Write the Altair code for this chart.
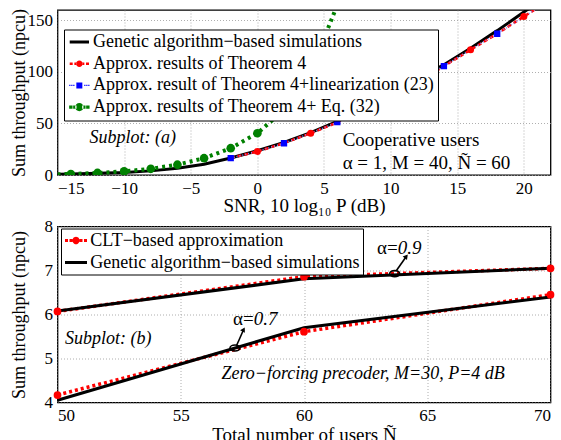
import altair as alt
import pandas as pd

FONT = "Liberation Serif"

# ---------------- Subplot (a): sum throughput vs SNR ----------------
snr_ga = [-15, -14, -12, -10, -8, -6, -4, -2, 0, 2, 4, 6, 8, 10, 12, 14, 16, 18, 20, 22]
thr_ga = [0.8, 1.0, 1.6, 2.5, 4.0, 6.5, 10.5, 16.5, 23.5, 31.5, 41.0, 52.0,
          64.0, 78.0, 92.0, 107.0, 123.0, 140.0, 158.0, 176.0]

snr_thm = [-2, 0, 2, 4, 6, 8, 10, 12, 14, 16, 18, 20, 22]
thr_thm4 = [16.5, 22.8, 31.0, 40.5, 51.0, 63.0, 76.0, 90.0, 105.5, 121.4, 137.0, 153.7, 170.0]
thr_lin = [16.3, 23.0, 30.8, 40.7, 51.2, 63.2, 76.2, 90.3, 105.6, 121.6, 137.0, 153.3, 170.5]
snr_thm4_marks = [0, 4, 8, 12, 16, 20]
snr_lin_marks = [-2, 2, 6, 10, 14, 18]

snr_eq32 = [-15, -14, -12, -10, -8, -6, -4, -2, 0, 2, 4, 6]
thr_eq32 = [0.7, 1.0, 2.0, 3.5, 6.0, 10.0, 16.3, 26.0, 40.5, 63.0, 100.0, 165.0]
snr_eq32_marks = [-14, -12, -10, -8, -6, -4, -2, 0, 2, 4, 6]

names_a = [
    "Genetic algorithm\u2212based simulations",
    "Approx. results of Theorem 4",
    "Approx. result of Theorem 4+linearization (23)",
    "Approx. results of Theorem 4+ Eq. (32)",
]

# ---------------- Subplot (b): sum throughput vs number of users ----------------
users = [50, 60, 70]
clt_09 = [6.07, 6.86, 7.05]
ga_09 = [6.08, 6.81, 7.05]
clt_07 = [4.17, 5.61, 6.45]
ga_07 = [4.05, 5.70, 6.40]

names_b = ["CLT\u2212based approximation", "Genetic algorithm\u2212based simulations"]


def frame(xs, ys, curve):
    return pd.DataFrame({"x": xs, "y": ys, "curve": curve})


def pick(xs, ys, keep):
    return [y for x, y in zip(xs, ys) if x in keep]


# Legend glyphs: a line segment plus its marker as one filled path.
# Built in pixels around the symbol centre, then divided by the symbol unit u.
def g_rect(u, x0, x1, h):
    return f"M{x0 / u:.3f},{-h / u:.3f}H{x1 / u:.3f}V{h / u:.3f}H{x0 / u:.3f}Z"


def g_box(u, c, h):
    return g_rect(u, c - h, c + h, h)


def g_circle(u, c, r):
    a, b, rr = (c - r) / u, (c + r) / u, r / u
    return f"M{a:.3f},0A{rr:.3f},{rr:.3f} 0 1,0 {b:.3f},0A{rr:.3f},{rr:.3f} 0 1,0 {a:.3f},0Z"


U = 8            # sqrt(symbolSize) / 2
SYM_SIZE = (2 * U) ** 2

# panel (a) legend glyphs: segment spans -6.8..12.5 px, centre m
ma = 2.85
glyph_solid_a = g_rect(U, -6.8, 12.5, 1.5)
glyph_red_a = (g_rect(U, ma - 9.65, ma - 6.65, 1.25) + g_rect(U, ma - 5, ma - 3, 1.25)
               + g_circle(U, ma, 3.3)
               + g_rect(U, ma + 3, ma + 5, 1.25) + g_rect(U, ma + 6.65, ma + 9.65, 1.25))
glyph_blue_a = "".join(g_box(U, ma + d, 0.6) for d in (-9.5, -7.5, -5.5, 5.5, 7.5, 9.5)) + g_box(U, ma, 3)
glyph_green_a = "".join(g_box(U, ma + d, 1.7) for d in (-8.5, -4.5, 4.5, 8.5)) + g_circle(U, ma, 4.2)

# panel (b) legend glyphs: segment spans -8..14 px
mb = 3.0
glyph_red_b = "".join(g_box(U, mb + d, 1.5) for d in (-9.5, -5, 5, 9.5)) + g_circle(U, mb, 3.5)
glyph_solid_b = g_rect(U, -8, 14, 1.5)

RED = "#ff0000"
BLUE = "#0000ff"
LIGHTBLUE = "#8c8cff"
GREEN = "#008000"

axis_common = dict(
    labelFont=FONT, labelFontSize=17, labelColor="black",
    titleFont=FONT, titleFontWeight="normal", titleColor="black",
    grid=True, gridColor="#9a9a9a", gridDash=[1, 2], gridWidth=0.8,
    domain=False, ticks=False, labelPadding=5,
)


def legend(x, y, pad, row_pad, offset):
    return alt.Legend(orient="none", legendX=x, legendY=y,
                      strokeColor="black", fillColor="white",
                      padding=pad, rowPadding=row_pad, labelOffset=offset,
                      symbolSize=SYM_SIZE, symbolStrokeWidth=0,
                      labelFont=FONT, labelFontSize=18,
                      labelColor="black", labelLimit=0)


# ---------------- panel (a) ----------------
WA, HA = 493, 165
xa = alt.X("x:Q", scale=alt.Scale(domain=[-15, 22], nice=False),
           axis=alt.Axis(values=[-15, -10, -5, 0, 5, 10, 15, 20],
                         title="SNR, 10 log\u2081\u2080 P (dB)", titleFontSize=19,
                         titleY=30, titleBaseline="middle", **axis_common))
ya = alt.Y("y:Q", scale=alt.Scale(domain=[0, 160], nice=False),
           axis=alt.Axis(values=[0, 50, 100, 150], title="Sum throughput (npcu)",
                         titleFontSize=18, titleX=-38, titleY=HA / 2, titleBaseline="middle",
                         titleAlign="center", **axis_common))

d_ga = frame(snr_ga, thr_ga, "ga")
d_thm = frame(snr_thm, thr_thm4, "thm4")
d_lin = frame(snr_thm, thr_lin, "lin")
d_eq = frame(snr_eq32, thr_eq32, "eq32")

m_thm = frame(snr_thm4_marks, pick(snr_thm, thr_thm4, snr_thm4_marks), "thm4")
m_lin = frame(snr_lin_marks, pick(snr_thm, thr_lin, snr_lin_marks), "lin")
m_eq = frame(snr_eq32_marks, pick(snr_eq32, thr_eq32, snr_eq32_marks), "eq32")

line_ga = alt.Chart(d_ga).mark_line(color="black", strokeWidth=3, clip=True).encode(x=xa, y=ya)
line_eq = alt.Chart(d_eq).mark_line(color=GREEN, strokeWidth=4, strokeDash=[3, 4], clip=True).encode(x=xa, y=ya)
line_thm = alt.Chart(d_thm).mark_line(color=RED, strokeWidth=2.5, strokeDash=[4, 3], clip=True).encode(x=xa, y=ya)
line_lin = alt.Chart(d_lin).mark_line(color=LIGHTBLUE, strokeWidth=1.5, strokeDash=[1, 2], clip=True).encode(x=xa, y=ya)

pt_eq = alt.Chart(m_eq).mark_point(shape="circle", filled=True, color=GREEN, size=75, opacity=1, clip=True).encode(x=xa, y=ya)
pt_thm = alt.Chart(m_thm).mark_point(shape="circle", filled=True, color=RED, size=50, opacity=1, clip=True).encode(x=xa, y=ya)
pt_lin = alt.Chart(m_lin).mark_point(shape="square", filled=True, color=BLUE, size=40, opacity=1, clip=True).encode(x=xa, y=ya)

legend_a = (
    alt.Chart(pd.DataFrame({"series": names_a}))
    .transform_filter("false")
    .mark_point(filled=True, opacity=1, strokeWidth=0)
    .encode(
        x=alt.value(0), y=alt.value(0),
        color=alt.Color("series:N", title=None,
                        scale=alt.Scale(domain=names_a, range=["black", RED, BLUE, GREEN]),
                        legend=legend(6.5, 19.5, 3.5, 3.7, 7.5)),
        shape=alt.Shape("series:N", title=None,
                        scale=alt.Scale(domain=names_a,
                                        range=[glyph_solid_a, glyph_red_a, glyph_blue_a, glyph_green_a])),
    )
)

notes_a = pd.DataFrame({
    "x": [-12.6, 6.4, 6.4],
    "y": [35.4, 34.4, 11.4],
    "label": ["Subplot: (a)", "Cooperative users", "\u03b1 = 1, M = 40, \u00d1 = 60"],
    "style": ["italic", "normal", "normal"],
})
txt_a_it = alt.Chart(notes_a[notes_a["style"] == "italic"]).mark_text(
    align="left", baseline="middle", font=FONT, fontSize=18, fontStyle="italic", color="black"
).encode(x=xa, y=ya, text="label:N")
txt_a = alt.Chart(notes_a[notes_a["style"] == "normal"]).mark_text(
    align="left", baseline="middle", font=FONT, fontSize=19, color="black"
).encode(x=xa, y=ya, text="label:N")

panel_a = alt.layer(
    line_ga, line_eq, line_thm, line_lin, pt_eq, pt_thm, pt_lin, txt_a_it, txt_a, legend_a
).properties(width=WA, height=HA)

# ---------------- panel (b) ----------------
WB, HB = 493, 176
xb = alt.X("x:Q", scale=alt.Scale(domain=[50, 70], nice=False),
           axis=alt.Axis(values=[50, 55, 60, 65, 70], title="Total number of users \u00d1",
                         titleFontSize=19, titleY=32, titleBaseline="middle", **axis_common))
yb = alt.Y("y:Q", scale=alt.Scale(domain=[4, 8], nice=False),
           axis=alt.Axis(values=[4, 5, 6, 7, 8], title="Sum throughput (npcu)",
                         titleFontSize=18, titleX=-38, titleY=HB / 2, titleBaseline="middle",
                         titleAlign="center", **axis_common))

d_clt = pd.concat([frame(users, clt_09, "clt09"), frame(users, clt_07, "clt07")])
d_gab = pd.concat([frame(users, ga_09, "ga09"), frame(users, ga_07, "ga07")])

line_clt = alt.Chart(d_clt).mark_line(color=RED, strokeWidth=3.5, strokeDash=[3, 3]).encode(
    x=xb, y=yb, detail="curve:N")
line_gab = alt.Chart(d_gab).mark_line(color="black", strokeWidth=3).encode(
    x=xb, y=yb, detail="curve:N")
pt_clt = alt.Chart(d_clt).mark_point(shape="circle", filled=True, color=RED, size=60, opacity=1,
                                     clip=False).encode(x=xb, y=yb)

# ellipses grouping each pair of curves, with arrows to their labels
rings = pd.DataFrame({"x": [63.68, 57.2], "y": [6.93, 5.24]})
ring = alt.Chart(rings).mark_point(
    shape="M-1,0A1,0.6 0 1,0 1,0A1,0.6 0 1,0 -1,0Z", size=100, filled=False,
    color="black", strokeWidth=1.6, opacity=1
).encode(x=xb, y=yb)

arrows = pd.DataFrame({"x": [63.75, 57.27], "y": [7.0, 5.3],
                       "x2": [64.15, 57.55], "y2": [7.32, 5.66], "angle": [38, 29]})
shaft = alt.Chart(arrows).mark_rule(color="black", strokeWidth=1.6).encode(
    x=xb, y=yb, x2="x2:Q", y2="y2:Q")
head = alt.Chart(arrows).mark_point(shape="triangle-up", filled=True, color="black",
                                    size=30, opacity=1).encode(
    x=alt.X("x2:Q", scale=alt.Scale(domain=[50, 70], nice=False)),
    y=alt.Y("y2:Q", scale=alt.Scale(domain=[4, 8], nice=False)),
    angle=alt.Angle("angle:Q", scale=None))

alpha_lbl = pd.DataFrame({"x": [63.8, 57.96], "y": [7.52, 5.89],
                          "sym": ["\u03b1=", "\u03b1="], "val": ["0.9", "0.7"]})
alpha_sym = alt.Chart(alpha_lbl).mark_text(
    align="right", baseline="middle", font=FONT, fontSize=19, color="black"
).encode(x=xb, y=yb, text="sym:N")
alpha_val = alt.Chart(alpha_lbl).mark_text(
    align="left", baseline="middle", font=FONT, fontSize=19, fontStyle="italic", color="black"
).encode(x=xb, y=yb, text="val:N")

notes_b = pd.DataFrame({
    "x": [50.3, 62.4],
    "y": [5.45, 4.64],
    "label": ["Subplot: (b)", "Zero\u2212forcing precoder, M=30, P=4 dB"],
})
txt_b1 = alt.Chart(notes_b.iloc[[0]]).mark_text(
    align="left", baseline="middle", font=FONT, fontSize=18, fontStyle="italic", color="black"
).encode(x=xb, y=yb, text="label:N")
txt_b2 = alt.Chart(notes_b.iloc[[1]]).mark_text(
    align="center", baseline="middle", font=FONT, fontSize=18, fontStyle="italic", color="black"
).encode(x=xb, y=yb, text="label:N")

legend_b = (
    alt.Chart(pd.DataFrame({"series": names_b}))
    .transform_filter("false")
    .mark_point(filled=True, opacity=1, strokeWidth=0)
    .encode(
        x=alt.value(0), y=alt.value(0),
        color=alt.Color("series:N", title=None,
                        scale=alt.Scale(domain=names_b, range=[RED, "black"]),
                        legend=legend(3.5, 2, 3, 4, 8.3)),
        shape=alt.Shape("series:N", title=None,
                        scale=alt.Scale(domain=names_b, range=[glyph_red_b, glyph_solid_b])),
    )
)

panel_b = alt.layer(
    line_clt, line_gab, pt_clt, ring, shaft, head, alpha_sym, alpha_val, txt_b1, txt_b2, legend_b
).properties(width=WB, height=HB)

chart = (
    alt.vconcat(panel_a, panel_b, spacing=51.5, bounds="flush")
    .resolve_scale(color="independent", shape="independent", x="independent", y="independent")
    .properties(
        padding={"left": 9.5, "top": 7, "right": 2, "bottom": 0},
        background="white",
    )
    .configure(font=FONT)
    .configure_view(stroke="black", strokeWidth=1.3)
)

chart.save("out.html", embed_options={"renderer": "svg", "actions": False})
